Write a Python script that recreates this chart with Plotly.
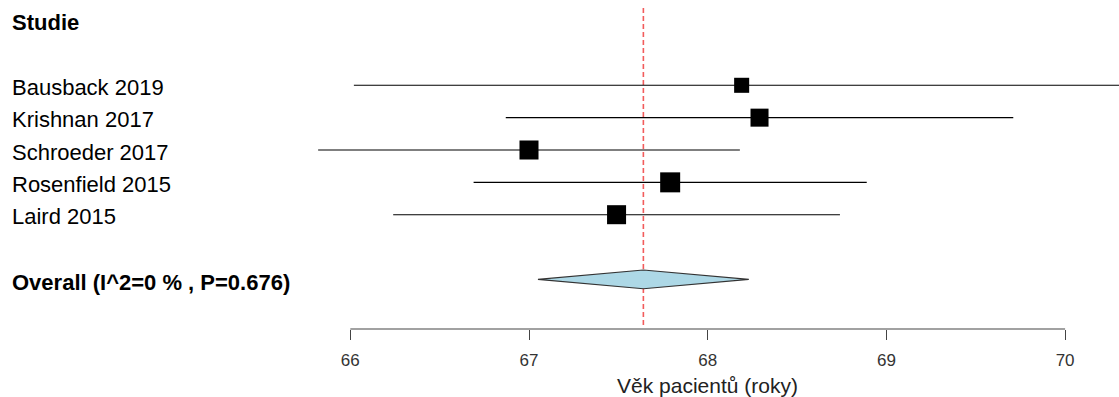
import plotly.graph_objects as go
import numpy as np

# ---- data ----
studies = ["Bausback 2019", "Krishnan 2017", "Schroeder 2017", "Rosenfield 2015", "Laird 2015"]
mean = [68.19, 68.29, 67.00, 67.79, 67.49]
lower = [66.02, 66.87, 65.82, 66.69, 66.24]
upper = [70.36, 69.71, 68.18, 68.89, 68.74]
weights = [13.5, 19.4, 21.6, 23.9, 21.6]
pooled_est = 67.64
pooled_lo = 67.05
pooled_hi = 68.23
overall_label = "Overall (I^2=0 % , P=0.676)"
header = "Studie"
xlabel = "Věk pacientů (roky)"
tick_vals = [66, 67, 68, 69, 70]

W, H = 1119, 397
FONT = "Liberation Sans, Arial, sans-serif"

rows = [2 + i for i in range(len(studies))]
overall_row = 8
row_px = 32.35
row0_px = 20.6
axis_row = (329 - row0_px) / row_px
title_row = (385 - row0_px) / row_px

fig = go.Figure()

# reference (pooled) dashed line
fig.add_trace(go.Scatter(x=[pooled_est, pooled_est], y=[-0.39, axis_row - 0.12], mode="lines",
                         line=dict(color="#f25c5c", width=1.6, dash="5px,3px"),
                         hoverinfo="skip", showlegend=False))

# CI lines
cx, cy = [], []
for lo, hi, r in zip(lower, upper, rows):
    cx += [lo, hi, None]
    cy += [r, r, None]
fig.add_trace(go.Scatter(x=cx, y=cy, mode="lines", line=dict(color="#000000", width=1.1),
                         hoverinfo="skip", showlegend=False))

# squares
w = np.array(weights)
sizes = 20 * np.sqrt(w / w.max())
fig.add_trace(go.Scatter(x=mean, y=rows, mode="markers",
                         marker=dict(symbol="square", size=sizes, color="#000000",
                                     opacity=1, line=dict(width=0)),
                         showlegend=False))

# diamond
hh = 0.29
fig.add_trace(go.Scatter(x=[pooled_lo, pooled_est, pooled_hi, pooled_est, pooled_lo],
                         y=[overall_row, overall_row - hh, overall_row, overall_row + hh, overall_row],
                         mode="lines", fill="toself", fillcolor="#ADD8E6",
                         line=dict(color="#333", width=1.1), showlegend=False))

# axis line (spans the tick range only)
fig.add_trace(go.Scatter(x=[tick_vals[0], tick_vals[-1]], y=[axis_row, axis_row], mode="lines",
                         line=dict(color="#444", width=1.2), hoverinfo="skip", showlegend=False))

# text labels
lab_font = dict(family=FONT, size=22, color="black")
ann = [dict(x=10 / W, y=0, xref="paper", yref="y", text="<b>%s</b>" % header,
            showarrow=False, xanchor="left", yanchor="middle", yshift=-2, font=lab_font)]
for s, r in zip(studies, rows):
    ann.append(dict(x=10 / W, y=r, xref="paper", yref="y", text=s, showarrow=False,
                    xanchor="left", yanchor="middle", yshift=-2, font=lab_font))
ann.append(dict(x=10 / W, y=overall_row, xref="paper", yref="y", text="<b>%s</b>" % overall_label,
                showarrow=False, xanchor="left", yanchor="middle", yshift=-3, font=lab_font))
ann.append(dict(x=(tick_vals[0] + tick_vals[-1]) / 2, y=title_row, xref="x", yref="y",
                text=xlabel, showarrow=False, xanchor="center", yanchor="middle",
                font=dict(family=FONT, size=21, color="#222")))

px_per = 178.7
x0 = 350.3
xmin = tick_vals[0] - x0 / px_per
xmax = xmin + W / px_per
top_row = -row0_px / row_px
bot_row = (H - row0_px) / row_px

fig.update_layout(
    width=W, height=H,
    margin=dict(l=0, r=0, t=0, b=0),
    paper_bgcolor="white", plot_bgcolor="white",
    annotations=ann,
    xaxis=dict(range=[xmin, xmax], domain=[0, 1],
               anchor="free", position=1 - 329 / H,
               showline=False, ticks="outside", ticklen=10, tickcolor="#444", tickwidth=1.2,
               tickvals=tick_vals, ticktext=[str(v) for v in tick_vals],
               tickfont=dict(family=FONT, size=17, color="#333"), ticklabelstandoff=6,
               showgrid=False, zeroline=False, automargin=False),
    yaxis=dict(range=[bot_row, top_row], visible=False, domain=[0, 1]),
)

fig.write_html("out.html")
